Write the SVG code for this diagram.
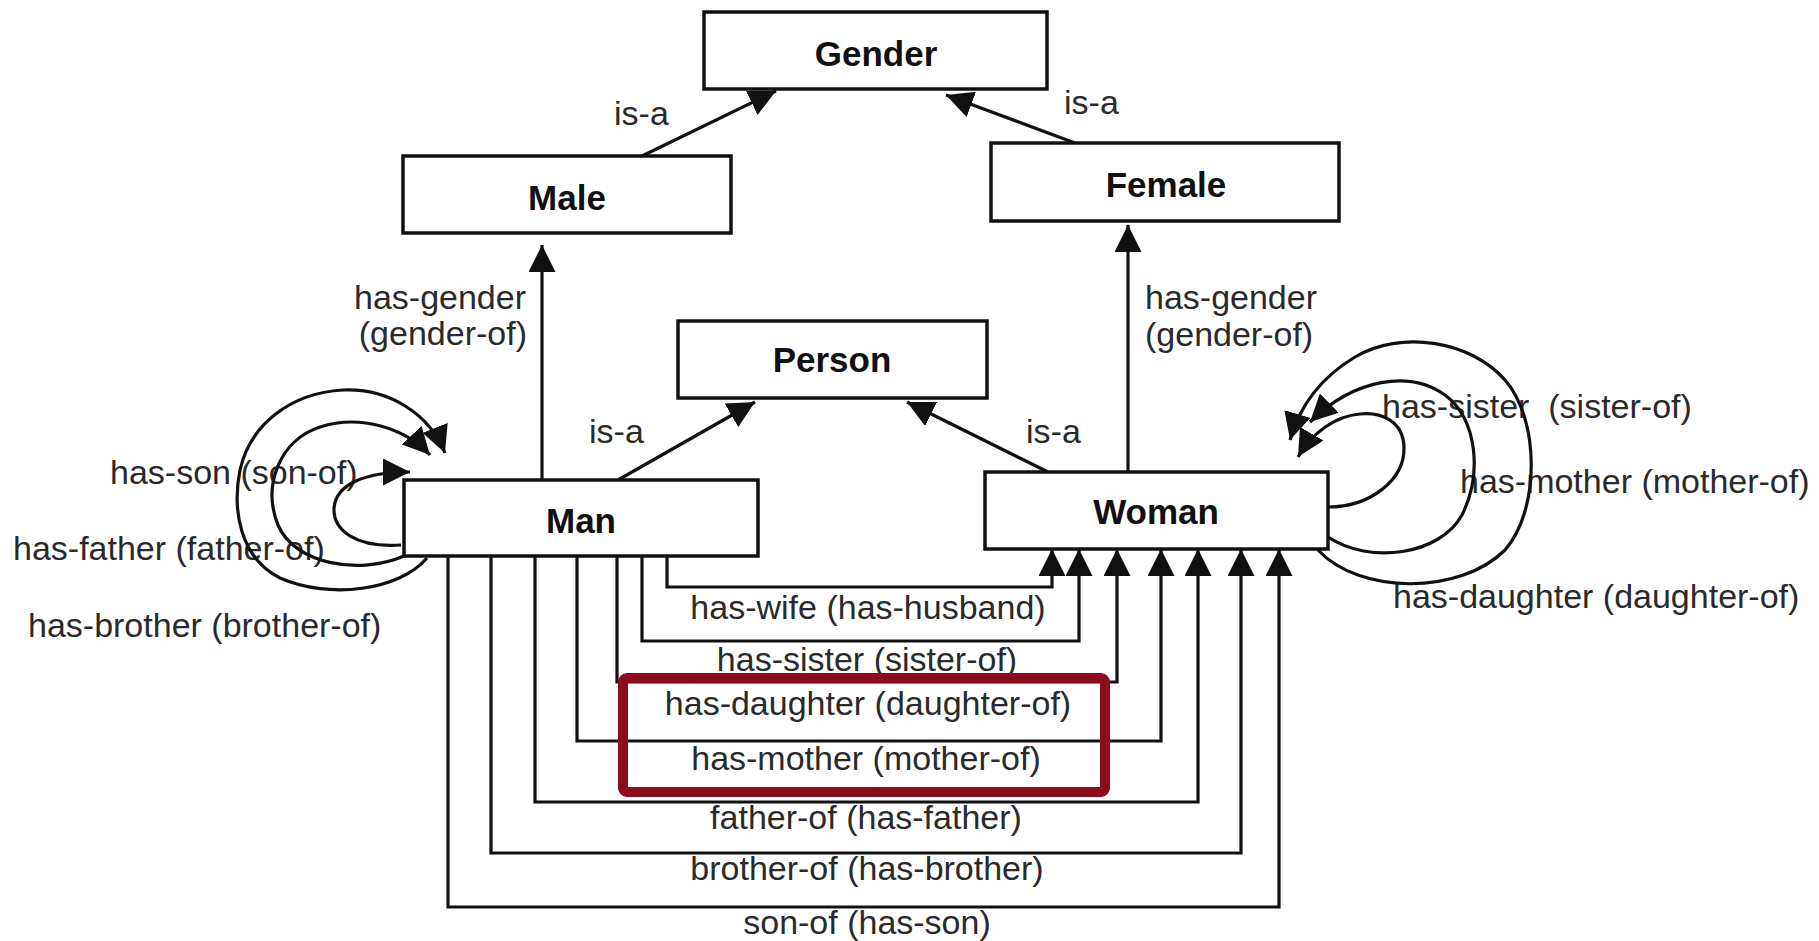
<svg xmlns="http://www.w3.org/2000/svg" width="1819" height="941" viewBox="0 0 1819 941">
<style>
.box{fill:#fff;stroke:#111;stroke-width:3.5}
.nt{font-family:"Liberation Sans",Arial,sans-serif;font-weight:bold;font-size:35px;fill:#111;text-anchor:middle}
.lb{font-family:"Liberation Sans",Arial,sans-serif;font-size:34px;fill:#2a2a2a}
.mid{text-anchor:middle}
.end{text-anchor:end}
.ln{fill:none;stroke:#111;stroke-width:3.2}
.arr{marker-end:url(#ah)}
.hl{fill:none;stroke:#8a0c1d;stroke-width:10}
</style>
<defs>
<marker id="ah" markerUnits="userSpaceOnUse" viewBox="0 0 27 27" refX="27" refY="13.5" markerWidth="27" markerHeight="27" orient="auto">
<path d="M0,0 L27,13.5 L0,27 z" fill="#111"/>
</marker>
</defs>
<rect width="1819" height="941" fill="#fff"/>

<g id="labels">
<text class="lb" x="614" y="125">is-a</text>
<text class="lb" x="1064" y="114">is-a</text>
<text class="lb" x="589" y="443">is-a</text>
<text class="lb" x="1026" y="443">is-a</text>
<text class="lb end" x="526" y="309">has-gender</text>
<text class="lb end" x="527" y="345">(gender-of)</text>
<text class="lb" x="1145" y="309">has-gender</text>
<text class="lb" x="1145" y="346">(gender-of)</text>
<text class="lb" x="110" y="484">has-son (son-of)</text>
<text class="lb" x="13" y="560">has-father (father-of)</text>
<text class="lb" x="28" y="637">has-brother (brother-of)</text>
<text class="lb" x="1382" y="418" xml:space="preserve">has-sister  (sister-of)</text>
<text class="lb" x="1460" y="493">has-mother (mother-of)</text>
<text class="lb" x="1393" y="608">has-daughter (daughter-of)</text>
<text class="lb mid" x="868" y="619">has-wife (has-husband)</text>
<text class="lb mid" x="867" y="671">has-sister (sister-of)</text>
<text class="lb mid" x="868" y="715">has-daughter (daughter-of)</text>
<text class="lb mid" x="866" y="770">has-mother (mother-of)</text>
<text class="lb mid" x="866" y="829">father-of (has-father)</text>
<text class="lb mid" x="867" y="880">brother-of (has-brother)</text>
<text class="lb mid" x="867" y="934">son-of (has-son)</text>
</g>

<g id="connectors">
<path class="ln arr" d="M642,156 L776,91"/>
<path class="ln arr" d="M1075,143 L946,95"/>
<path class="ln arr" d="M542,480 V245"/>
<path class="ln arr" d="M1128,472 V225"/>
<path class="ln arr" d="M618,480 L755,402"/>
<path class="ln arr" d="M1048,472 L907,402"/>
<path class="ln arr" d="M667,556 V587 H1052 V549"/>
<path class="ln arr" d="M642,556 V641 H1079 V549"/>
<path class="ln arr" d="M617,556 V682 H1117 V549"/>
<path class="ln arr" d="M577,556 V741 H1161 V549"/>
<path class="ln arr" d="M535,556 V802 H1198 V549"/>
<path class="ln arr" d="M491,556 V853 H1241 V549"/>
<path class="ln arr" d="M448,556 V907 H1279 V549"/>
<path class="ln arr" d="M401,545 C355,548 333,530 334,508 C336,484 365,472 410,472"/>
<path class="ln arr" d="M404,556 C360,575 295,565 278,525 C262,485 280,440 320,427 C360,414 405,428 430,455"/>
<path class="ln arr" d="M427,558 C400,590 330,600 280,578 C240,558 232,510 240,470 C250,425 290,393 343,390 C390,388 430,415 445,453"/>
<path class="ln arr" d="M1328,507 C1370,507 1405,480 1404,447 C1403,420 1380,412 1360,414 C1335,416 1312,433 1298,457"/>
<path class="ln arr" d="M1328,537 C1370,565 1440,555 1462,515 C1482,475 1478,420 1445,395 C1410,370 1355,378 1310,422"/>
<path class="ln arr" d="M1318,550 C1360,595 1460,595 1505,550 C1540,510 1540,420 1505,380 C1470,340 1400,330 1355,357 C1320,378 1300,405 1290,440"/>
</g>

<g id="gender"><rect class="box" x="704" y="12" width="343" height="77"/><text class="nt" x="876" y="66">Gender</text></g>
<g id="male"><rect class="box" x="403" y="156" width="328" height="77"/><text class="nt" x="567" y="210">Male</text></g>
<g id="female"><rect class="box" x="991" y="143" width="348" height="78"/><text class="nt" x="1166" y="197">Female</text></g>
<g id="person"><rect class="box" x="678" y="321" width="309" height="77"/><text class="nt" x="832" y="372">Person</text></g>
<g id="man"><rect class="box" x="404" y="480" width="354" height="76"/><text class="nt" x="581" y="533">Man</text></g>
<g id="woman"><rect class="box" x="985" y="472" width="343" height="77"/><text class="nt" x="1156" y="524">Woman</text></g>

<g id="highlight"><rect class="hl" x="623" y="678" width="482" height="114" rx="4"/></g>
</svg>
